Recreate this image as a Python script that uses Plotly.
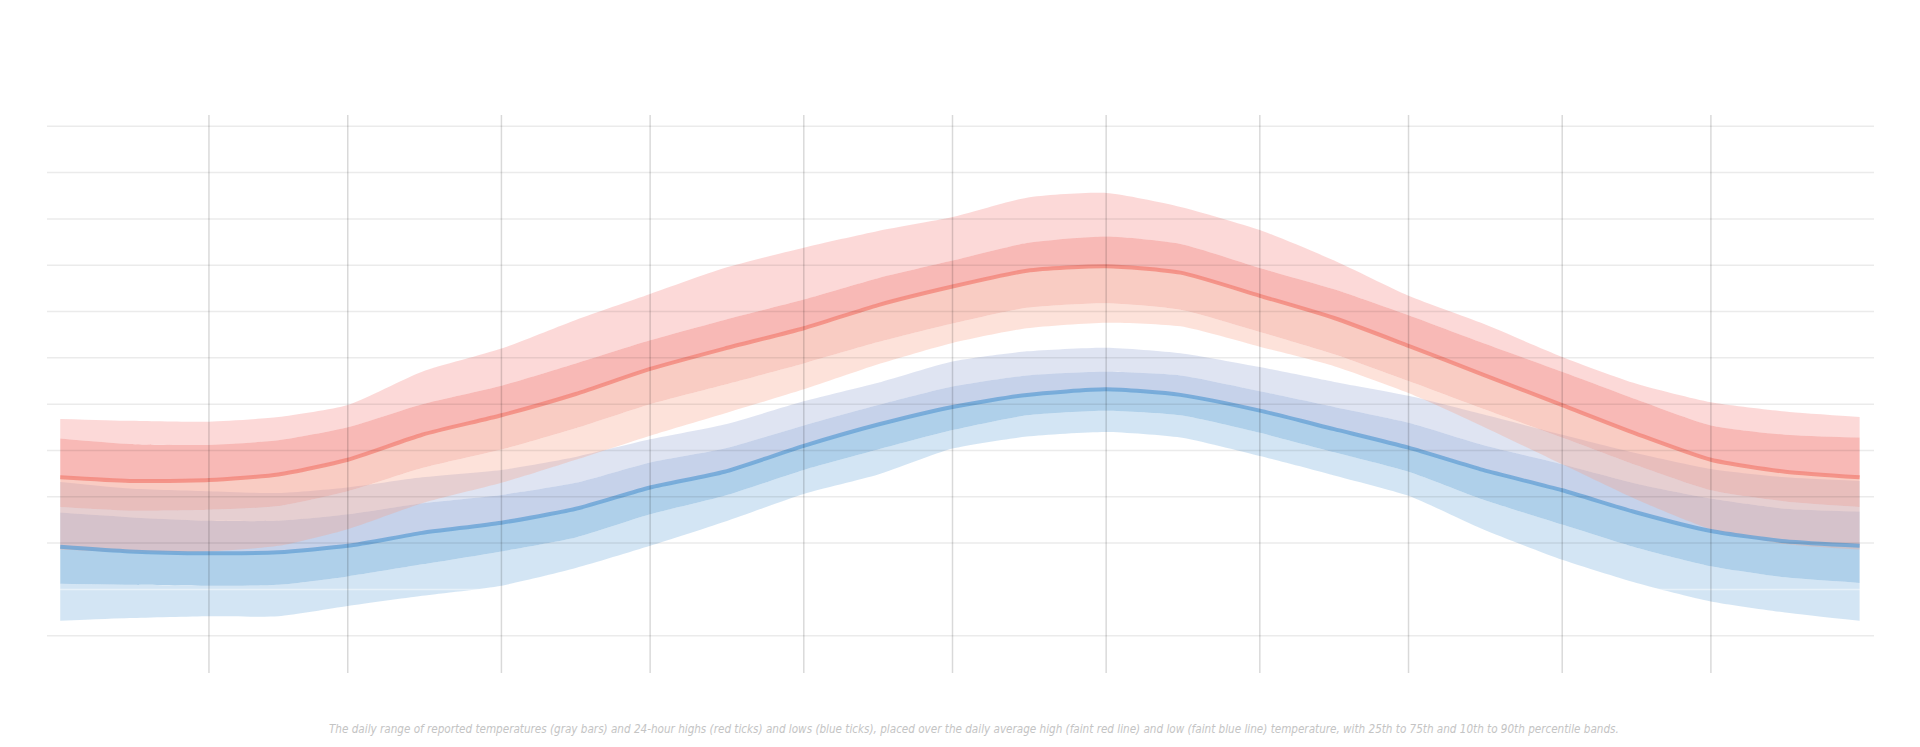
import plotly.graph_objects as go

dates = ["2023-01-02", "2023-01-16", "2023-02-01", "2023-02-15", "2023-03-01",
         "2023-03-16", "2023-04-01", "2023-04-16", "2023-05-01", "2023-05-16",
         "2023-06-01", "2023-06-16", "2023-07-01", "2023-07-16", "2023-08-01",
         "2023-08-16", "2023-09-01", "2023-09-16", "2023-10-01", "2023-10-16",
         "2023-11-01", "2023-11-16", "2023-12-01", "2023-12-16", "2023-12-31"]

# Daily high temperature (deg C): percentiles and average
high_p90 = [18.4, 18.2, 18.1, 18.6, 19.9, 23.5, 26.0, 29.1, 31.9, 34.7, 36.9, 38.7, 40.2,
            42.3, 42.8, 41.3, 38.8, 35.5, 31.7, 28.7, 25.1, 22.2, 20.2, 19.2, 18.6]
high_p75 = [16.3, 15.7, 15.6, 16.1, 17.5, 20.0, 22.0, 24.4, 26.9, 29.1, 31.3, 33.6, 35.5,
            37.4, 38.1, 37.3, 34.7, 32.4, 29.6, 26.6, 23.5, 20.5, 17.7, 16.7, 16.4]
high_avg = [12.1, 11.7, 11.8, 12.4, 14.0, 16.7, 18.8, 21.1, 23.8, 26.0, 28.2, 30.7, 32.7,
            34.4, 34.9, 34.2, 31.7, 29.3, 26.3, 23.2, 19.9, 16.8, 14.0, 12.7, 12.1]
high_p25 = [8.9, 8.5, 8.6, 9.0, 10.6, 13.1, 15.1, 17.4, 20.0, 22.1, 24.4, 26.7, 28.7,
            30.4, 30.9, 30.2, 27.8, 25.4, 22.5, 19.5, 16.4, 13.4, 10.7, 9.5, 8.9]
high_p10 = [4.3, 4.0, 4.1, 4.7, 6.5, 9.3, 11.5, 14.0, 16.6, 19.0, 21.6, 24.3, 26.6,
            28.2, 28.8, 28.4, 26.2, 24.1, 21.2, 17.6, 13.5, 9.7, 6.5, 4.9, 4.3]

# Daily low temperature (deg C): percentiles and average
low_p90 = [11.6, 10.9, 10.6, 10.4, 11.0, 12.1, 12.9, 14.3, 16.2, 17.8, 20.3, 22.3, 24.6,
           25.7, 26.1, 25.5, 24.0, 22.4, 20.9, 18.9, 16.7, 14.7, 13.0, 12.1, 11.7]
low_p75 = [8.3, 7.8, 7.4, 7.4, 8.1, 9.3, 10.2, 11.5, 13.7, 15.2, 17.7, 19.9, 21.9,
           23.1, 23.5, 23.1, 21.4, 19.7, 18.0, 15.6, 13.5, 11.4, 9.8, 8.7, 8.4]
low_avg = [4.6, 4.1, 3.9, 4.0, 4.7, 6.1, 7.2, 8.7, 11.0, 12.7, 15.5, 17.8, 19.7,
           21.0, 21.6, 21.0, 19.3, 17.3, 15.3, 12.9, 10.7, 8.3, 6.3, 5.2, 4.7]
low_p25 = [0.6, 0.5, 0.4, 0.5, 1.4, 2.7, 4.1, 5.6, 8.1, 10.1, 12.9, 15.1, 17.2,
           18.8, 19.3, 18.8, 16.9, 14.8, 12.7, 9.7, 7.0, 4.5, 2.5, 1.3, 0.7]
low_p10 = [-3.4, -3.1, -2.9, -2.9, -1.8, -0.7, 0.4, 2.3, 4.7, 7.3, 10.3, 12.4, 15.2,
           16.5, 17.0, 16.4, 14.4, 12.3, 10.1, 6.5, 3.2, 0.7, -1.3, -2.5, -3.4]

# Axis ticks
y_ticks = [-5, 0, 5, 10, 15, 20, 25, 30, 35, 40, 45, 50]
month_starts = ["2023-02-01", "2023-03-01", "2023-04-01", "2023-05-01", "2023-06-01",
                "2023-07-01", "2023-08-01", "2023-09-01", "2023-10-01", "2023-11-01",
                "2023-12-01"]

caption = ("The daily range of reported temperatures (gray bars) and 24-hour highs (red ticks) "
           "and lows (blue ticks), placed over the daily average high (faint red line) and low "
           "(faint blue line) temperature, with 25th to 75th and 10th to 90th percentile bands.")

fig = go.Figure()


def band_stack(series, colors):
    first = True
    for s, c in zip(series, colors):
        fig.add_trace(go.Scatter(
            x=dates, y=s, mode="lines",
            line=dict(width=0, shape="spline", smoothing=0.6),
            fill=None if first else "tonexty",
            fillcolor=c, hoverinfo="skip", showlegend=False))
        first = False


# Lows first (underneath)
band_stack([low_p90, low_p75, low_avg, low_p25, low_p10],
           [None, "rgba(148,165,212,0.30)", "rgba(128,155,208,0.45)",
            "rgba(77,151,208,0.45)", "rgba(108,168,218,0.30)"])
# Highs on top
band_stack([high_p90, high_p75, high_avg, high_p25, high_p10],
           [None, "rgba(245,128,125,0.30)", "rgba(239,99,93,0.45)",
            "rgba(242,146,127,0.47)", "rgba(248,158,132,0.30)"])

# Average lines
fig.add_trace(go.Scatter(x=dates, y=low_avg, mode="lines",
                         line=dict(width=4, color="rgba(104,163,214,0.8)", shape="spline", smoothing=0.6),
                         hoverinfo="skip", showlegend=False))
fig.add_trace(go.Scatter(x=dates, y=high_avg, mode="lines",
                         line=dict(width=4, color="rgba(242,134,122,0.8)", shape="spline", smoothing=0.6),
                         hoverinfo="skip", showlegend=False))

shapes = []
for v in y_ticks:
    col = "rgba(255,255,255,0.45)" if v == 0 else "rgba(0,0,0,0.08)"
    shapes.append(dict(type="line", xref="paper", x0=0, x1=1, yref="y", y0=v, y1=v,
                       line=dict(color=col, width=1.5), layer="above"))
for m in month_starts:
    shapes.append(dict(type="line", xref="x", x0=m, x1=m, yref="paper", y0=-0.068, y1=1.0175,
                       line=dict(color="rgba(0,0,0,0.15)", width=1.5), layer="above"))

# The page body has an 8px margin, so the figure is 8px smaller than the window
fig.update_layout(
    width=1912, height=739,
    margin=dict(l=39, r=46, t=116, b=109),
    paper_bgcolor="white", plot_bgcolor="white",
    showlegend=False,
    shapes=shapes,
    xaxis=dict(type="date", range=["2022-12-30 07:50", "2024-01-02 21:40"],
               showgrid=False, zeroline=False, showticklabels=False, ticks="", showline=False),
    yaxis=dict(range=[-5.25, 50.25], showgrid=False, zeroline=False,
               showticklabels=False, ticks="", showline=False),
    annotations=[dict(text="<i>" + caption + "</i>", xref="paper", yref="paper",
                      x=0.5075, y=-0.177, xanchor="center", yanchor="middle", showarrow=False,
                      font=dict(family="Liberation Sans Narrow, DejaVu Sans Condensed, Roboto, sans-serif",
                                size=11.6, color="#c4c4c4"))],
)

fig.write_html("out.html")
